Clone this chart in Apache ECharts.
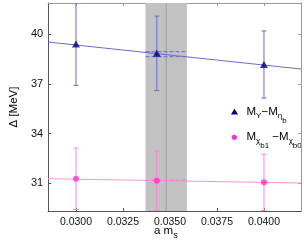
<!DOCTYPE html>
<html><head><meta charset="utf-8">
<script src="https://cdn.jsdelivr.net/npm/echarts@6/dist/echarts.min.js"></script>
<style>html,body{margin:0;padding:0;background:#fff}#c{width:304px;height:242px}</style>
</head><body><div id="c"></div>
<script>
// ---- data ----
const ms = [0.0300, 0.0343, 0.0400];
const upsEta = [39.42, 38.86, 38.18];
const upsEtaErr = [2.50, 2.25, 2.03];
const chiDiff = [31.28, 31.16, 31.06];
const chiDiffErr = [1.86, 1.80, 1.70];
const fitX = [0.02852, 0.04197];
const fitUps = [39.54, 37.91];
const fitChi = [31.28, 31.02];
const bandX = [0.0337, 0.0359];
const physMs = 0.0348;
const fitUpsBand = [38.655, 38.96];
const fitChiBand = [31.19];
const xTicks = [0.0300, 0.0325, 0.0350, 0.0375, 0.0400];
const yTicks = [31, 34, 37, 40];
const legendNames = ['M_Υ−M_η_b', 'M_χ_b1 −M_χ_b0'];

const xMin = 0.02852, xMax = 0.04197, yMin = 29.33, yMax = 41.9;
const font = 'Liberation Sans';
const BLUE = '#000080', BLUE_L = '#6b6bd0', PINK = '#ff33cc', PINK_L = '#ff80e0';

function errSeries(xs, ys, es, color) {
  return {
    type: 'custom', z: 3, clip: true,
    data: xs.map((x, i) => [x, ys[i] - es[i], ys[i] + es[i]]),
    renderItem: function (params, api) {
      const lo = api.coord([api.value(0), api.value(1)]);
      const hi = api.coord([api.value(0), api.value(2)]);
      const w = 2.5;
      const st = { stroke: color, lineWidth: 1 };
      return { type: 'group', children: [
        { type: 'line', shape: { x1: lo[0], y1: lo[1], x2: hi[0], y2: hi[1] }, style: st },
        { type: 'line', shape: { x1: lo[0] - w, y1: lo[1], x2: lo[0] + w, y2: lo[1] }, style: st },
        { type: 'line', shape: { x1: hi[0] - w, y1: hi[1], x2: hi[0] + w, y2: hi[1] }, style: st }
      ]};
    }
  };
}

const rich = {
  m: { fontSize: 11.5, fontFamily: font, color: '#000', lineHeight: 12, verticalAlign: 'top' },
  s: { fontSize: 8, fontFamily: font, color: '#000', lineHeight: 9, verticalAlign: 'top', padding: [6, 0, 0, 0] },
  ss: { fontSize: 8, fontFamily: font, color: '#000', lineHeight: 9, verticalAlign: 'top', padding: [11, 0, 0, 0] },
  a: { fontSize: 11.5, fontFamily: font, color: '#000', lineHeight: 12, verticalAlign: 'top' },
  as: { fontSize: 9, fontFamily: font, color: '#000', lineHeight: 9, verticalAlign: 'top', padding: [6, 0, 0, 0] }
};
const legendRich = [
  '{m|M}{s|Υ}{m|−M}{s|η}{ss|b}',
  '{m|M}{s|χ}{ss|b1}{m| −M}{s|χ}{ss|b0}'
];

const chart = echarts.init(document.getElementById('c'), null, { renderer: 'canvas' });
chart.setOption({
  animation: false,
  grid: { left: 35, right: 3, top: 3, bottom: 31 },
  xAxis: [{
    type: 'value', min: xMin, max: xMax,
    axisLine: { show: true, onZero: false, lineStyle: { color: '#555', width: 1 } },
    axisTick: { show: true, inside: true, length: 3, customValues: xTicks, lineStyle: { color: '#555' } },
    axisLabel: { customValues: xTicks, formatter: v => v.toFixed(4), fontSize: 10.5, fontFamily: font, color: '#111', margin: 6 },
    splitLine: { show: false }
  }, {
    type: 'value', min: xMin, max: xMax, position: 'top',
    axisLine: { show: true, onZero: false, lineStyle: { color: '#999' } },
    axisTick: { show: true, inside: true, length: 3, customValues: xTicks, lineStyle: { color: '#999' } },
    axisLabel: { show: false }, splitLine: { show: false }
  }],
  yAxis: [{
    type: 'value', min: yMin, max: yMax,
    name: 'Δ [MeV]', nameLocation: 'middle', nameGap: 21, nameRotate: 90,
    nameTextStyle: { fontSize: 11.5, fontFamily: font, color: '#000' },
    axisLine: { show: true, onZero: false, lineStyle: { color: '#555', width: 1 } },
    axisTick: { show: true, inside: true, length: 3, customValues: yTicks, lineStyle: { color: '#555' } },
    axisLabel: { customValues: yTicks, fontSize: 11, fontFamily: font, color: '#111', margin: 5 },
    splitLine: { show: false }
  }, {
    type: 'value', min: yMin, max: yMax, position: 'right',
    axisLine: { show: true, onZero: false, lineStyle: { color: '#999' } },
    axisTick: { show: true, inside: true, length: 3, customValues: yTicks, lineStyle: { color: '#999' } },
    axisLabel: { show: false }, splitLine: { show: false }
  }],
  graphic: [
    { type: 'text', x: 154, y: 225, style: { text: '{a|a m}{as|s}', rich: rich } },
    { type: 'polygon', shape: { points: [[231, 114.5], [234.5, 108.5], [238, 114.5]] }, style: { fill: BLUE } },
    { type: 'circle', shape: { cx: 234.3, cy: 137.3, r: 2.6 }, style: { fill: PINK } },
    { type: 'text', x: 246.5, y: 106, style: { text: legendRich[0], rich: rich } },
    { type: 'text', x: 246.5, y: 131, style: { text: legendRich[1], rich: rich } }
  ],
  series: [
    { type: 'line', name: 'band', data: [], silent: true,
      markArea: { silent: true, itemStyle: { color: '#c2c2c2', opacity: 1 }, data: [[{ xAxis: bandX[0] }, { xAxis: bandX[1] }]] }
    },
    { type: 'line', data: [[physMs, yMin], [physMs, yMax]], symbol: 'none', lineStyle: { color: '#9e9e9e', width: 1 }, z: 1 },
    { type: 'line', data: fitX.map((x, i) => [x, fitUps[i]]), symbol: 'none', lineStyle: { color: BLUE_L, width: 1 }, z: 2 },
    { type: 'line', data: fitX.map((x, i) => [x, fitChi[i]]), symbol: 'none', lineStyle: { color: '#ff90e4', width: 1 }, z: 2 },
    { type: 'line', data: [[bandX[0], fitUpsBand[0]], [bandX[1], fitUpsBand[0]]], symbol: 'none', lineStyle: { color: BLUE_L, width: 1, type: [4, 2] }, z: 2 },
    { type: 'line', data: [[bandX[0], fitUpsBand[1]], [bandX[1], fitUpsBand[1]]], symbol: 'none', lineStyle: { color: BLUE_L, width: 1, type: [4, 2] }, z: 2 },
    { type: 'line', data: [[bandX[0], fitChiBand[0]], [bandX[1], fitChiBand[0]]], symbol: 'none', lineStyle: { color: '#ff70dc', width: 1, type: [4, 2] }, z: 2 },
    errSeries(ms, upsEta, upsEtaErr, BLUE_L),
    errSeries(ms, chiDiff, chiDiffErr, PINK_L),
    { type: 'scatter', name: legendNames[0], data: ms.map((x, i) => [x, upsEta[i]]), symbol: 'triangle', symbolSize: [8, 7], itemStyle: { color: BLUE }, z: 4 },
    { type: 'scatter', name: legendNames[1], data: ms.map((x, i) => [x, chiDiff[i]]), symbol: 'circle', symbolSize: 6, itemStyle: { color: PINK }, z: 4 }
  ]
});
</script></body></html>
